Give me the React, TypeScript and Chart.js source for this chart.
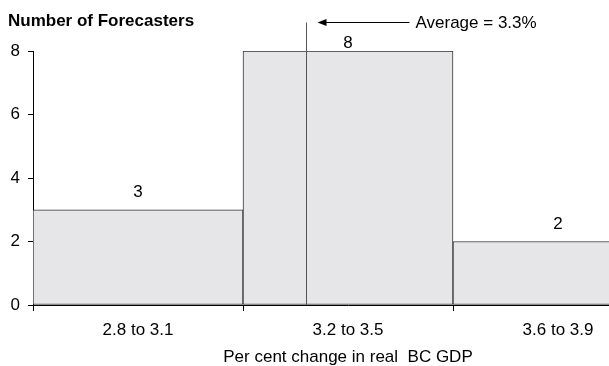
import React, { useEffect, useRef } from 'react';
import { Chart, registerables } from 'chart.js';

Chart.register(...registerables);

const categories = ['2.8 to 3.1', '3.2 to 3.5', '3.6 to 3.9'];
const forecasterCounts = [3, 8, 2];
const yTickValues = [0, 2, 4, 6, 8];
const yMin = 0;
const yMax = 8;
const averageLabel = 'Average = 3.3%';
const averagePosition = 0.8; // position of the average on the category index scale
const averageLineTop = 8.9; // y value where the average marker line ends
const yTitle = 'Number of Forecasters';
const xTitle = 'Per cent change in real  BC GDP';

const FONT = '"Liberation Sans", Arial, Helvetica, sans-serif';

const overlayPlugin = {
  id: 'overlay',
  afterDatasetsDraw(chart: any) {
    const { ctx, chartArea } = chart;
    const x = chart.scales.x;
    const y = chart.scales.y;
    const meta = chart.getDatasetMeta(0);
    ctx.save();
    ctx.font = `17px ${FONT}`;
    ctx.fillStyle = '#000';
    ctx.textAlign = 'center';
    ctx.textBaseline = 'middle';
    meta.data.forEach((bar: any, i: number) => {
      const yy = Math.max(bar.y - 17, chartArea.top - 8);
      ctx.fillText(String(forecasterCounts[i]), bar.x, yy);
    });

    // average line
    const lx = Math.round(x.getPixelForValue(averagePosition)) + 0.5;
    const top = Math.round(y.getPixelForValue(averageLineTop)) + 0.5;
    const bottom = y.getPixelForValue(0);
    ctx.strokeStyle = '#555';
    ctx.lineWidth = 1;
    ctx.beginPath();
    ctx.moveTo(lx, top);
    ctx.lineTo(lx, bottom);
    ctx.stroke();

    // arrow
    const tipX = lx + 11;
    ctx.strokeStyle = '#000';
    ctx.beginPath();
    ctx.moveTo(tipX + 6, top);
    ctx.lineTo(lx + 103, top);
    ctx.stroke();
    ctx.fillStyle = '#000';
    ctx.beginPath();
    ctx.moveTo(tipX, top);
    ctx.lineTo(tipX + 9, top - 3.5);
    ctx.lineTo(tipX + 9, top + 3.5);
    ctx.closePath();
    ctx.fill();

    ctx.textAlign = 'left';
    ctx.fillText(averageLabel, lx + 109, top + 1);
    ctx.restore();
  },
};

export default function App() {
  const canvasRef = useRef<HTMLCanvasElement | null>(null);

  useEffect(() => {
    if (!canvasRef.current) return;
    const chart = new Chart(canvasRef.current, {
      type: 'bar',
      data: {
        labels: categories,
        datasets: [
          {
            data: forecasterCounts,
            backgroundColor: '#e6e6e8',
            borderColor: '#333',
            borderWidth: 1,
            borderSkipped: false,
            barPercentage: 1,
            categoryPercentage: 1,
          },
        ],
      },
      options: {
        responsive: false,
        animation: false,
        devicePixelRatio: 1,
        layout: { padding: { left: 8, top: 0, right: 0, bottom: 0 } },
        plugins: {
          legend: { display: false },
          tooltip: { enabled: false },
          title: {
            display: true,
            text: yTitle,
            align: 'start',
            color: '#000',
            font: { family: FONT, size: 17, weight: 'bold', lineHeight: 1.2 },
            padding: { top: 11, bottom: 19.6 },
          },
        },
        scales: {
          x: {
            type: 'category',
            offset: true,
            grid: {
              display: true,
              offset: true,
              drawOnChartArea: false,
              drawTicks: true,
              tickLength: 6,
              color: '#000',
            },
            border: { display: true, color: '#000', width: 1 },
            ticks: {
              color: '#000',
              padding: 9,
              font: { family: FONT, size: 17 },
              maxRotation: 0,
            },
            title: {
              display: true,
              text: xTitle,
              color: '#000',
              font: { family: FONT, size: 17, lineHeight: 1.0 },
              padding: { top: 0, bottom: 0 },
            },
            afterFit: (axis: any) => {
              axis.height = 61;
            },
          },
          y: {
            min: yMin,
            max: yMax,
            grid: {
              display: true,
              drawOnChartArea: false,
              drawTicks: true,
              tickLength: 5,
              color: '#000',
            },
            border: { display: true, color: '#000', width: 1 },
            ticks: {
              color: '#000',
              padding: 8,
              font: { family: FONT, size: 17 },
            },
            afterBuildTicks: (axis: any) => {
              axis.ticks = yTickValues.map((v) => ({ value: v }));
            },
            afterFit: (axis: any) => {
              axis.width = 25;
            },
          },
        },
      },
      plugins: [overlayPlugin],
    });
    return () => chart.destroy();
  }, []);

  return (
    <div
      style={{
        position: 'fixed',
        left: 0,
        top: 0,
        width: 609,
        height: 366,
        overflow: 'hidden',
        background: '#fff',
      }}
    >
      <canvas ref={canvasRef} width={663} height={366} style={{ display: 'block' }} />
    </div>
  );
}
